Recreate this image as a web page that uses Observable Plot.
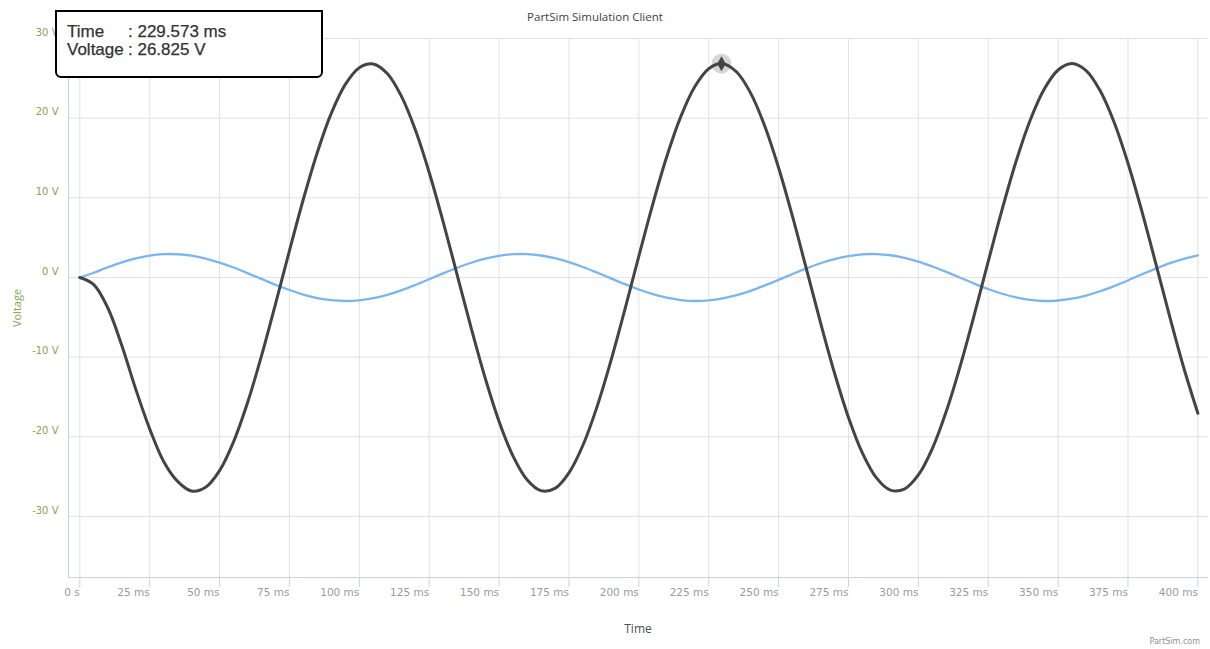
<!DOCTYPE html>
<html>
<head>
<meta charset="utf-8">
<script src="https://cdn.jsdelivr.net/npm/d3@7"></script>
<script src="https://cdn.jsdelivr.net/npm/@observablehq/plot@0.6"></script>
<style>
  html, body { margin: 0; padding: 0; background: #fff; }
  #wrap { position: relative; width: 1210px; height: 649px; overflow: hidden; }
  #chart svg { display: block; }
  .ov { position: absolute; white-space: nowrap; }
  #title { left: 0; width: 1190px; top: 9px; text-align: center; font: 11.5px "Open Sans", sans-serif; color: #3e3e3e; }
  #xtitle { left: 68px; width: 1140px; top: 620px; text-align: center; font: 12px "Open Sans", sans-serif; color: #4d4d4d; }
  #ytitle { left: 16px; top: 308px; transform: translate(-50%, -50%) rotate(-90deg); font: 11px "Open Sans", sans-serif; color: #89a54e; }
  #credits { right: 10px; top: 637px; font: 8px "DejaVu Sans", sans-serif; color: #909090; }
  #tip { left: 55px; top: 10px; width: 264px; height: 64px; border: 2px solid #000; border-radius: 0 0 6px 6px; background: #fff;
         font: 17px "Liberation Sans", Arial, sans-serif; color: #333; line-height: 18px; padding: 0; box-sizing: content-box;
         -webkit-text-stroke: 0.25px #333; }
  #tip .row { position: absolute; left: 10px; }
  #tip .lab { display: inline-block; width: 61px; }
</style>
</head>
<body>
<div id="wrap">
  <div id="chart"></div>
  <div class="ov" id="title">PartSim Simulation Client</div>
  <div class="ov" id="xtitle">Time</div>
  <div class="ov" id="ytitle">Voltage</div>
  <div class="ov" id="credits">PartSim.com</div>
  <div class="ov" id="tip">
    <div class="row" style="top:11px"><span class="lab">Time</span>: 229.573 ms</div>
    <div class="row" style="top:29px"><span class="lab">Voltage</span>: 26.825 V</div>
  </div>
</div>
<script>
// ---- data ----
const timeMs = [0,5,10,15,20,25,30,35,40,45,50,55,60,65,70,75,80,85,90,95,
  100,105,110,115,120,125,130,135,140,145,150,155,160,165,170,175,180,185,190,195,
  200,205,210,215,220,225,230,235,240,245,250,255,260,265,270,275,280,285,290,295,
  300,305,310,315,320,325,330,335,340,345,350,355,360,365,370,375,380,385,390,395,400];

const blueVolts = [0,0.59,1.28,1.90,2.40,2.75,2.93,2.92,2.74,2.38,
  1.87,1.25,0.55,-0.18,-0.91,-1.57,-2.14,-2.58,-2.85,-2.95,
  -2.86,-2.60,-2.17,-1.61,-0.94,-0.22,0.51,1.22,1.85,2.36,
  2.72,2.92,2.93,2.76,2.42,1.93,1.32,0.62,-0.11,-0.84,
  -1.51,-2.09,-2.54,-2.83,-2.95,-2.88,-2.63,-2.22,-1.67,-1.01,
  -0.30,0.44,1.15,1.79,2.31,2.69,2.91,2.94,2.79,2.46,
  1.99,1.38,0.70,-0.04,-0.77,-1.45,-2.04,-2.50,-2.81,-2.95,
  -2.89,-2.66,-2.27,-1.73,-1.08,-0.37,0.40,1.12,1.80,2.35,2.78];

const blackVolts = [0,-0.9,-3.8,-8.5,-14.0,-19.0,-23.1,-25.6,-26.81,-26.34,
  -24.24,-20.63,-15.73,-9.85,-3.35,3.35,9.85,15.73,20.63,24.24,
  26.34,26.81,25.60,22.79,18.57,13.18,6.98,0.34,-6.32,-12.59,
  -18.07,-22.43,-25.39,-26.76,-26.47,-24.52,-21.06,-16.27,-10.47,-4.02,
  2.68,9.22,15.18,20.19,23.94,26.21,26.84,25.79,23.14,19.05,
  13.77,7.63,1.01,-5.67,-11.99,-17.57,-22.05,-25.16,-26.70,-26.57,
  -24.79,-21.47,-16.80,-11.09,-4.69,2.01,8.58,14.62,19.74,23.63,
  26.05,26.85,25.97,23.47,19.52,14.34,8.27,1.68,-5.01,-11.39,-17.05];

const hoverPoint = [{t: 229.573, v: 26.825}];

const xTicks = [0,25,50,75,100,125,150,175,200,225,250,275,300,325,350,375,400];
const xTickLabels = ["0 s","25 ms","50 ms","75 ms","100 ms","125 ms","150 ms","175 ms","200 ms",
  "225 ms","250 ms","275 ms","300 ms","325 ms","350 ms","375 ms","400 ms"];
const yTicks = [-30,-20,-10,0,10,20,30];
const yTickLabels = ["-30 V","-20 V","-10 V","0 V","10 V","20 V","30 V"];

// ---- build ----
const xDomain = [-4.04, 403.8];
const yDomain = [-37.66, 30];
const blue = timeMs.map((t, i) => ({t, v: blueVolts[i]}));
const black = timeMs.map((t, i) => ({t, v: blackVolts[i]}));

const chart = Plot.plot({
  width: 1210,
  height: 649,
  marginTop: 38,
  marginBottom: 72,
  marginLeft: 68,
  marginRight: 2,
  style: {fontFamily: "'DejaVu Sans', sans-serif", background: "transparent"},
  x: {domain: xDomain, axis: null},
  y: {domain: yDomain, axis: null},
  marks: [
    Plot.ruleX(xTicks, {x: d => d, y1: yDomain[0], y2: yDomain[1], stroke: "#e2e2e2", strokeWidth: 1}),
    Plot.ruleY(yTicks, {y: d => d, stroke: "#e2e2e2", strokeWidth: 1}),
    Plot.axisX(xTicks, {
      tickSize: 10, tickPadding: 1, stroke: "#c6d3e6", fill: "#9a9a9a", fontSize: 10.5,
      textAnchor: "end", tickFormat: d => xTickLabels[xTicks.indexOf(d)], label: null
    }),
    Plot.axisY(yTicks, {
      tickSize: 0, tickPadding: 10, dy: -6, fill: "#89a54e", fontSize: 10,
      tickFormat: d => yTickLabels[yTicks.indexOf(d)], label: null
    }),
    Plot.ruleX([xDomain[0]], {stroke: "#c6d3e6", strokeWidth: 1}),
    Plot.ruleY([yDomain[0]], {stroke: "#c6d3e6", strokeWidth: 1}),
    Plot.line(blue, {x: "t", y: "v", stroke: "#7cb5ec", strokeWidth: 2.3, curve: "catmull-rom"}),
    Plot.line(black, {x: "t", y: "v", stroke: "#434348", strokeWidth: 3, curve: "catmull-rom"}),
    Plot.dot(hoverPoint, {x: "t", y: "v", r: 10, fill: "#434348", fillOpacity: 0.22, stroke: null}),
    Plot.dot(hoverPoint, {x: "t", y: "v", r: 4.5, symbol: "diamond", fill: "#434348", stroke: null})
  ]
});
document.getElementById("chart").appendChild(chart);
</script>
</body>
</html>
